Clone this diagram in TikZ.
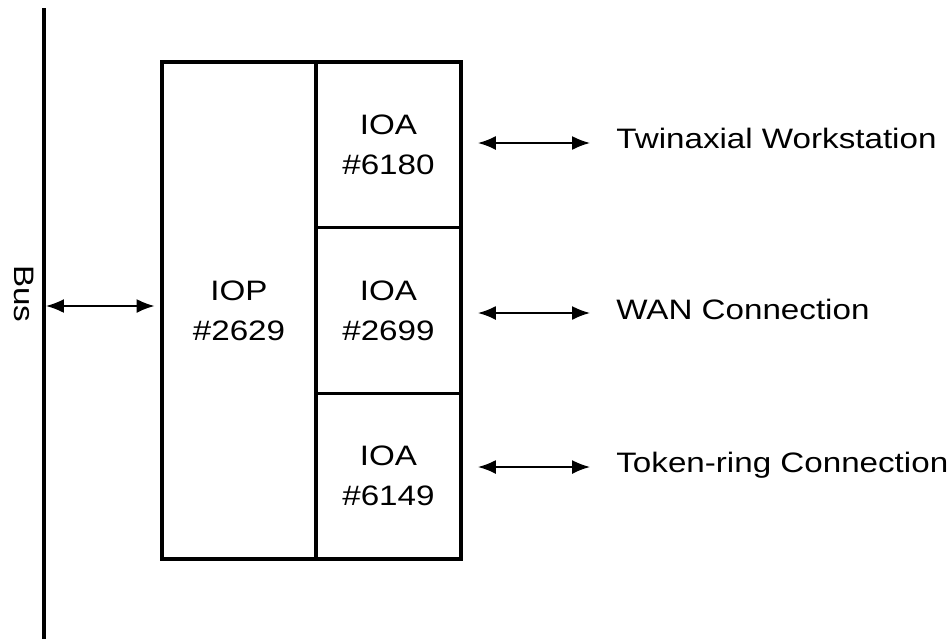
\documentclass[tikz,border=0pt]{standalone}
\usepackage{fontspec}
\setmainfont{Liberation Sans}[FakeStretch=1.18]
\usetikzlibrary{arrows.meta,positioning,calc}

\begin{document}
\begin{tikzpicture}[
    x=0.02cm, y=-0.02cm,
    unit/.style={rectangle, draw, line width=2pt, outer sep=0pt, minimum width=2.9cm, minimum height=3.313cm, align=center, inner sep=0pt, font=\fontsize{16}{22.8}\selectfont},
    busline/.style={line width=2.4pt},
    link/.style={{Latex[length=0.36cm, width=0.28cm]}-{Latex[length=0.36cm, width=0.28cm]}, line width=1pt},
    label/.style={inner sep=0pt, anchor=base west, font=\fontsize{16}{22.8}\selectfont}
]
\useasboundingbox (0,0) rectangle (952,639);

% Bus
\coordinate (bustop) at (44,8);
\coordinate (busbot) at (44,639);
\draw[busline] (bustop) -- (busbot);
\node[rotate=-90, inner sep=0pt, font=\fontsize{16}{22.8}\selectfont] (buslabel) at (24,294) {Bus};

% Processor and adapters
\node[unit, minimum width=3.08cm, minimum height=9.94cm] (iop) at (239,310.5) {IOP\\\#2629};
\node[unit, anchor=north west] (ioa1) at (iop.north east) {IOA\\\#6180};
\node[unit, below=0pt of ioa1] (ioa2) {IOA\\\#2699};
\node[unit, below=0pt of ioa2] (ioa3) {IOA\\\#6149};

% Connections
\node[label] (twin) at (616,148) {Twinaxial Workstation};
\node[label] (wan) at (616,319) {WAN Connection};
\node[label] (token) at (616,472) {Token-ring Connection};

\coordinate (busport) at (44,306);
\draw[link, shorten <=0.04cm, shorten >=0.15cm] (busport) -- (iop.west |- busport);

\coordinate (y1) at (0,143);
\coordinate (y2) at (0,313);
\coordinate (y3) at (0,467);
\draw[link, shorten <=0.34cm, shorten >=0.52cm] (ioa1.east |- y1) -- (twin.west |- y1);
\draw[link, shorten <=0.34cm, shorten >=0.52cm] (ioa2.east |- y2) -- (wan.west |- y2);
\draw[link, shorten <=0.34cm, shorten >=0.52cm] (ioa3.east |- y3) -- (token.west |- y3);
\end{tikzpicture}
\end{document}
